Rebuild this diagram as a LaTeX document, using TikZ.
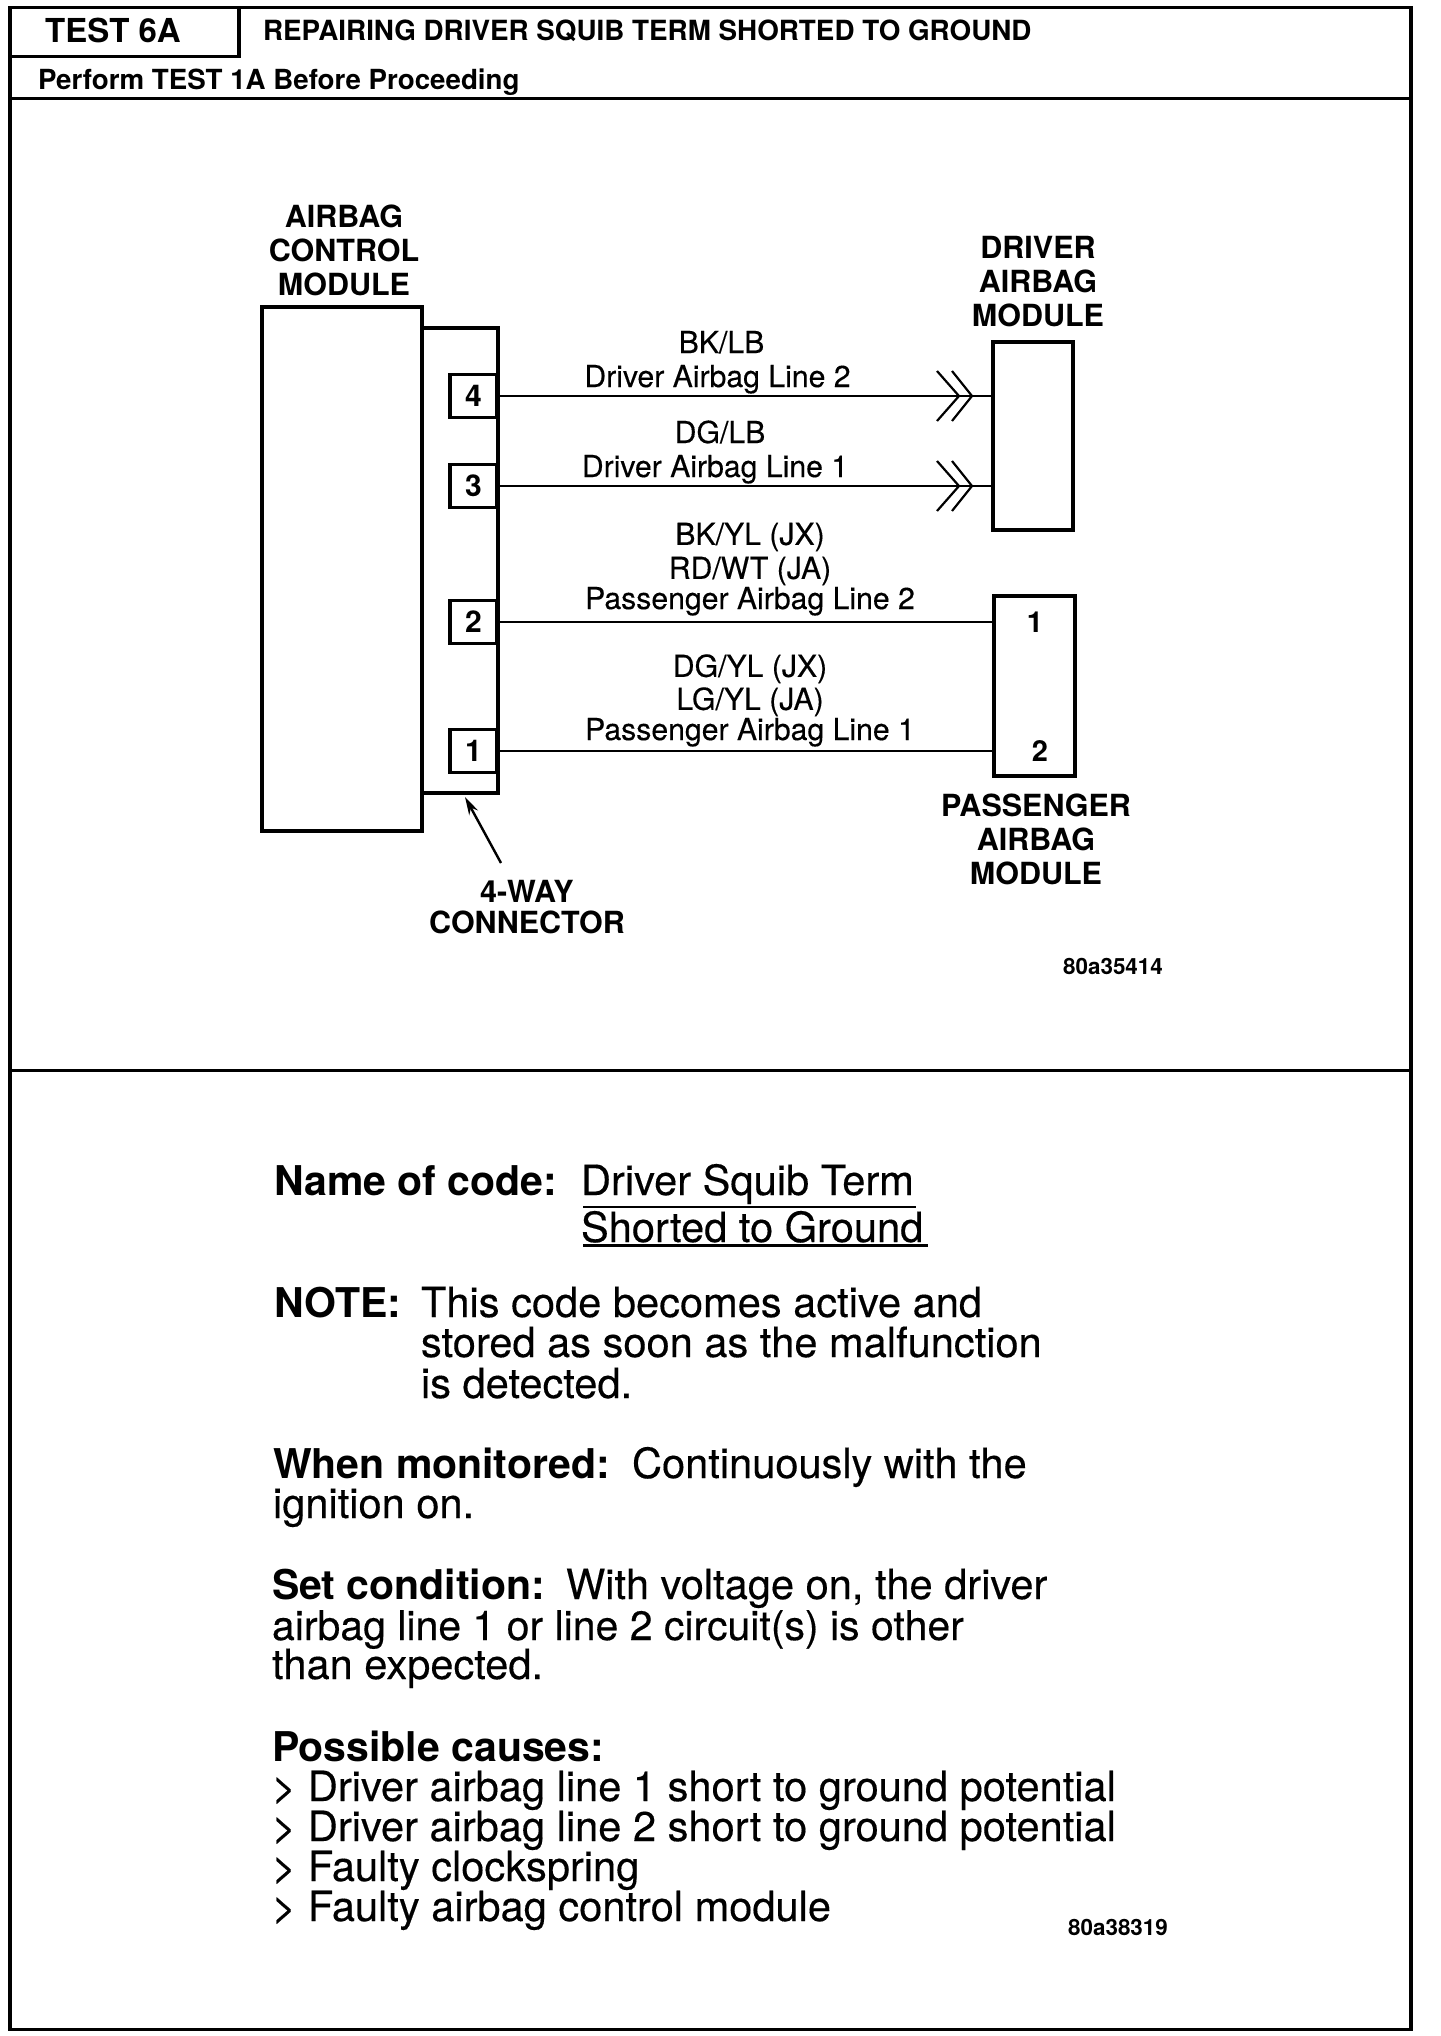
\documentclass[tikz,border=0pt]{standalone}
\usepackage{fontspec}
\setmainfont{TeX Gyre Heros}
\newfontfamily\heavy[FakeBold=0.3]{TeX Gyre Heros}
\usetikzlibrary{arrows.meta}
\newcommand{\fsz}[1]{\fontsize{#1}{#1}\selectfont}
\tikzset{
  x=1pt,y=-1pt,
  every node/.style={inner sep=0pt,outer sep=0pt},
  boxed/.style={draw=black,line width=4pt,fill=white,rectangle},
  pinbox/.style={boxed,line width=3.6pt,minimum width=47pt,minimum height=43pt,font=\bfseries\fsz{30}},
  wire/.style={draw=black,line width=2.8pt},
  thin wire/.style={draw=black,line width=2.2pt},
  rulerline/.style={draw=black,line width=3pt},
  title/.style={anchor=base,align=center,font=\bfseries\fsz{30.5}},
  lab/.style={anchor=base,align=center,font=\heavy\fsz{30.2}},
  body/.style={anchor=base west,font=\heavy\fsz{41.6}},
  bodyb/.style={anchor=base west,font=\bfseries\fsz{41}},
  code/.style={anchor=base,font=\bfseries\fsz{22.4}}
}
\begin{document}
\begin{tikzpicture}
\useasboundingbox (0,0) rectangle (1440,2036);
\fill[white] (0,0) rectangle (1440,2036);
% outer frame and rules
\node[rectangle,draw=black,line width=3.4pt,minimum width=1401pt,minimum height=2022pt,anchor=north west] (frame) at (10,7.5) {};
\coordinate (h1) at (10,99);
\coordinate (h2) at (10,1070);
\draw[rulerline] (h1) -- (h1 -| frame.east);
\draw[rulerline] (h2) -- (h2 -| frame.east);
\node[rectangle,draw=black,line width=3.4pt,minimum width=229pt,minimum height=49pt,anchor=north west] (testbox) at (10,7.5) {};
\node[anchor=base,font=\bfseries\fsz{33}] (testlabel) at (113,43) {TEST 6A};
\node[anchor=base west,font=\bfseries\fsz{27.8}] (headline) at (263,41) {REPAIRING DRIVER SQUIB TERM SHORTED TO GROUND};
\node[anchor=base west,font=\bfseries\fsz{27.7}] (perform) at (38,89.5) {Perform TEST 1A Before Proceeding};
% connector and control module
\node[boxed,minimum width=76pt,minimum height=465pt] (conn) at (459.5,560.5) {};
\node[boxed,minimum width=160pt,minimum height=524pt] (acm) at (342,569) {};
\node[title] (acmlab) at (344,295) {AIRBAG\\[3.5pt]CONTROL\\[3.5pt]MODULE};
\node[pinbox] (p4) at (473.5,396) {4};
\node[pinbox] (p3) at (473.5,486) {3};
\node[pinbox] (p2) at (473.5,622) {2};
\node[pinbox] (p1) at (473.5,751) {1};
% modules
\node[boxed,minimum width=80pt,minimum height=188pt] (drv) at (1033,436) {};
\node[title] (drvlab) at (1038,326) {DRIVER\\[3.5pt]AIRBAG\\[3.5pt]MODULE};
\node[boxed,minimum width=81pt,minimum height=180pt] (pass) at (1034,686) {};
\node[anchor=base,font=\bfseries\fsz{29}] (pass1) at (1035,632) {1};
\node[anchor=base,font=\bfseries\fsz{29}] (pass2) at (1040,761) {2};
\node[title] (passlab) at (1036,884) {PASSENGER\\[3.5pt]AIRBAG\\[3.5pt]MODULE};
% wires
\draw[wire] (p4.east) -- (p4.east -| drv.west);
\draw[wire] (p3.east) -- (p3.east -| drv.west);
\draw[wire] (p2.east) -- (p2.east -| pass.west);
\draw[wire] (p1.east) -- (p1.east -| pass.west);
% double chevrons
\coordinate (t4) at (972,396);
\coordinate (t3) at (972,486);
\foreach \t in {t4,t3}{
  \draw[thin wire] ([xshift=-20pt,yshift=25pt]\t) -- (\t) -- ([xshift=-20pt,yshift=-25pt]\t);
  \draw[thin wire] ([xshift=-35pt,yshift=25pt]\t) -- ([xshift=-13pt]\t) -- ([xshift=-35pt,yshift=-25pt]\t);
}
% wire labels
\node[lab] (l4) at (717.5,387) {\hspace*{8pt}BK/LB\\[3.8pt]Driver Airbag Line 2};
\node[lab] (l3) at (715,477) {\hspace*{10pt}DG/LB\\[3.8pt]Driver Airbag Line 1};
\node[lab] (l2) at (750,609) {BK/YL (JX)\\[3.8pt]RD/WT (JA)\\Passenger Airbag Line 2};
\node[lab] (l1) at (750,740) {DG/YL (JX)\\[2.8pt]LG/YL (JA)\\Passenger Airbag Line 1};
% 4-way connector callout
\node[title] (waylab) at (527,933) {4-WAY\\[0.5pt]CONNECTOR};
\coordinate (waytail) at (501,863);
\draw[draw=black,line width=2.4pt,-{Stealth[length=18pt,width=10pt]}] (waytail) -- (465,797);
\node[code] (code1) at (1113,974) {80a35414};
% lower panel
\node[bodyb] (nc) at (274,1195) {Name of code:};
\node[body] (nc1) at (581,1195) {Driver Squib Term};
\node[body] (nc2) at (581,1242) {Shorted to Ground};
\coordinate (r1) at (583,1207);
\coordinate (r2) at (583,1245.5);
\draw[draw=black,line width=2.2pt] (r1) -- ++(333,0);
\draw[draw=black,line width=2.2pt] (r2) -- ++(345,0);
\node[bodyb] (note) at (274,1317) {NOTE:};
\node[body] (n1) at (421,1317) {This code becomes active and};
\node[body] (n2) at (421,1357) {stored as soon as the malfunction};
\node[body] (n3) at (421,1398) {is detected.};
\node[bodyb] (wm) at (273,1478) {When monitored:};
\node[body] (wm1) at (632,1478) {Continuously with the};
\node[body] (wm2) at (273,1518) {ignition on.};
\node[bodyb] (sc) at (272,1599) {Set condition:};
\node[body] (sc1) at (566,1599) {With voltage on, the driver};
\node[body,font=\heavy\fsz{41}] (sc2) at (272,1640) {airbag line 1 or line 2 circuit(s) is other};
\node[body] (sc3) at (272,1679) {than expected.};
\node[bodyb] (pc) at (272,1761) {Possible causes:};
\node[body] (pc1) at (272,1801) {> Driver airbag line 1 short to ground potential};
\node[body] (pc2) at (272,1841) {> Driver airbag line 2 short to ground potential};
\node[body] (pc3) at (272,1881) {> Faulty clockspring};
\node[body] (pc4) at (272,1921) {> Faulty airbag control module};
\node[code] (code2) at (1118,1935) {80a38319};
\end{tikzpicture}
\end{document}
